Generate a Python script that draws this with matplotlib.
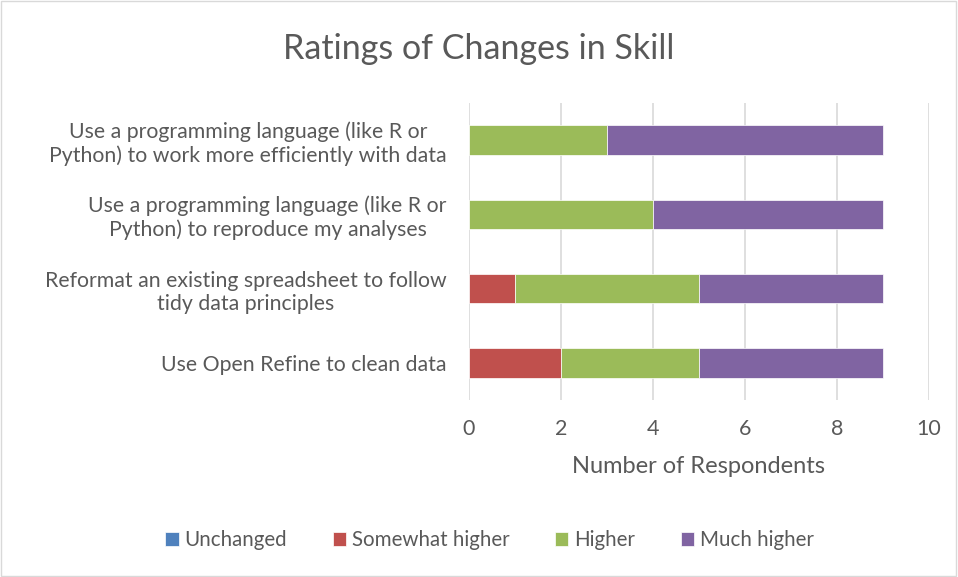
import matplotlib
matplotlib.use("Agg")
import matplotlib.pyplot as plt
import numpy as np
from matplotlib.patches import Rectangle

# categories listed bottom to top (as drawn)
categories = [
    "Use Open Refine to clean data",
    "Reformat an existing spreadsheet to follow\ntidy data principles",
    "Use a programming language (like R or\nPython) to reproduce my analyses",
    "Use a programming language (like R or\nPython) to work more efficiently with data",
]
series_names = ["Unchanged", "Somewhat higher", "Higher", "Much higher"]
unchanged = [0, 0, 0, 0]
somewhat_higher = [2, 1, 0, 0]
higher = [3, 4, 4, 3]
much_higher = [4, 4, 5, 6]
colors = ["#4F81BD", "#C0504D", "#9BBB59", "#8064A2"]

txt = "#595959"
plt.rcParams['font.family'] = ['Lato', 'DejaVu Sans']

fig = plt.figure(figsize=(9.58, 5.77), dpi=100)
fig.patches.append(Rectangle((0.001, 0.001), 0.997, 0.997, transform=fig.transFigure,
                             fill=False, edgecolor="#d9d9d9", linewidth=1))
ax = fig.add_axes([0.4896, 0.3068, 0.480, 0.5147])

y = np.arange(len(categories))
left = np.zeros(len(categories))
for name, vals, c in zip(series_names, [unchanged, somewhat_higher, higher, much_higher], colors):
    ax.barh(y, vals, left=left, height=0.4, color=c, label=name,
            edgecolor="white", linewidth=0.5, zorder=3)
    left += np.array(vals)

ax.set_xlim(0, 10)
ax.set_ylim(-0.5, 3.5)
ax.set_xticks(range(0, 11, 2))
ax.set_yticks(y)
ax.set_yticklabels(categories, multialignment="center")
ax.grid(axis="x", color="#d9d9d9", linewidth=1.2, zorder=0)
for s in ax.spines.values():
    s.set_visible(False)
ax.tick_params(axis="both", length=0, colors=txt)
ax.tick_params(axis="x", pad=14, labelsize=15.5)
ax.tick_params(axis="y", pad=16, labelsize=15.3)
ax.set_xlabel("Number of Respondents", color=txt, fontsize=17, labelpad=12)

fig.text(0.5, 0.915, "Ratings of Changes in Skill", ha="center", va="center",
         color=txt, fontsize=24.5)

handles, labels = ax.get_legend_handles_labels()
fig.legend(handles, labels, loc="center", bbox_to_anchor=(0.511, 0.064), ncol=4,
           frameon=False, fontsize=14.8, labelcolor=txt, handlelength=0.65,
           handleheight=0.65, handletextpad=0.3, columnspacing=2.2)

fig.savefig("out.png", dpi=100)
